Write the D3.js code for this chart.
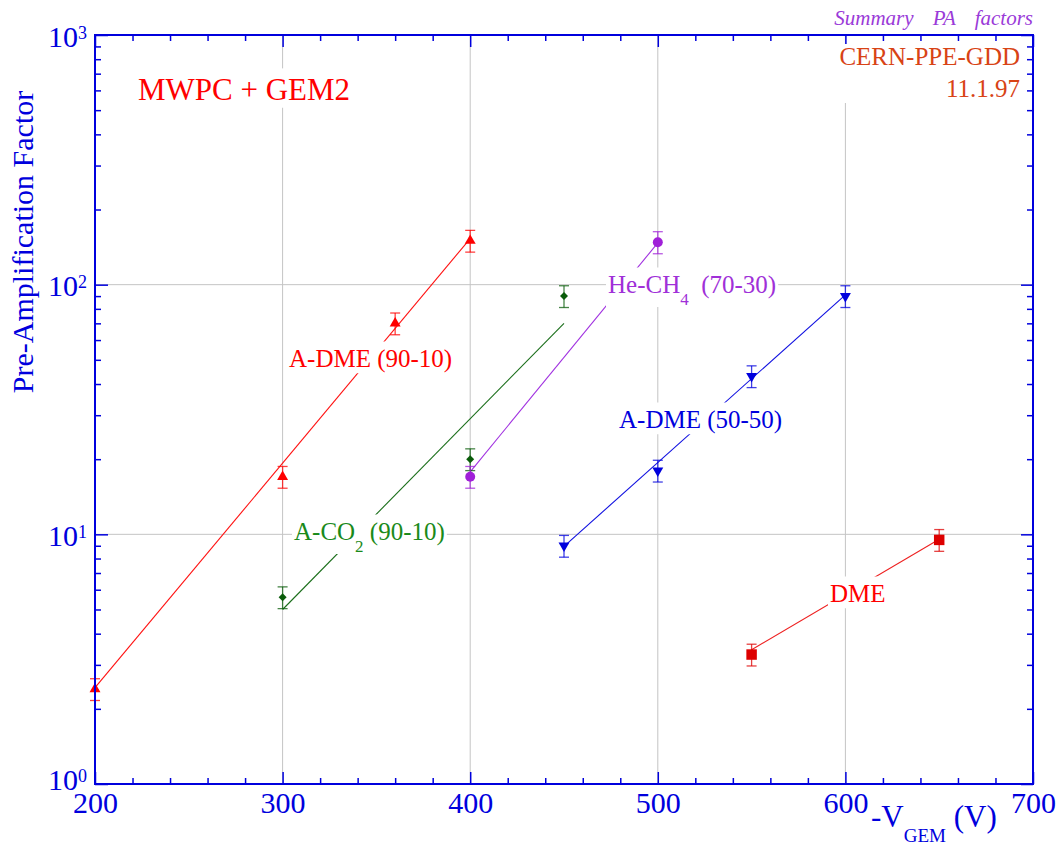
<!DOCTYPE html>
<html>
<head>
<meta charset="utf-8">
<script src="https://cdn.jsdelivr.net/npm/d3@7/dist/d3.min.js"></script>
<style>
  body { margin: 0; background: #fff; }
  svg { display: block; }
  text { font-family: "Liberation Serif", "Times New Roman", serif; }
</style>
</head>
<body>
<div id="chart"></div>
<script>
// ---- axis ticks ----
var xMajor = [200, 300, 400, 500, 600, 700];
var xMinor = [220, 240, 260, 280, 320, 340, 360, 380, 420, 440, 460, 480,
              520, 540, 560, 580, 620, 640, 660, 680];
var xGrid = [300, 400, 500, 600];
var yMajor = [1, 10, 100, 1000];
var yMinorMult = [2, 3, 4, 5, 6, 7, 8, 9];
var yGrid = [10, 100];

// ---- measured points [V, factor, error] ----
var adme9010 = [[200, 2.4, 0.24], [300, 17, 1.7], [360, 70, 7], [400, 150, 15]];
var aco2 = [[300, 5.6, 0.56], [400, 20, 2], [450, 90, 9]];
var hech4 = [[400, 17, 1.7], [500, 148, 15]];
var adme5050 = [[450, 9, 0.9], [500, 18, 1.8], [550, 43, 4.3], [600, 90, 9]];
var dme = [[550, 3.3, 0.33], [650, 9.5, 0.95]];

// ---- exponential fits, end points ----
var fitAdme9010 = [[200, 2.43], [400, 153]];
var fitAco2 = [[300, 5.0], [450, 70]];
var fitHech4 = [[400, 17.8], [500, 147]];
var fitAdme5050 = [[450, 8.95], [600, 91]];
var fitDme = [[550, 3.45], [650, 9.55]];

var blue = "#0000dd";

var series = [
  {pts: adme9010, fit: fitAdme9010, color: "#ff0000", line: "#ff1010", sym: d3.symbolTriangle, size: 52, rot: 0},
  {pts: aco2, fit: fitAco2, color: "#0a5c0a", line: "#1a6e1a", sym: d3.symbolSquare, size: 32, rot: 45},
  {pts: hech4, fit: fitHech4, color: "#a020d8", line: "#a030e0", sym: d3.symbolCircle, size: 78, rot: 0},
  {pts: adme5050, fit: fitAdme5050, color: "#0000dd", line: "#1010e0", sym: d3.symbolTriangle, size: 52, rot: 180},
  {pts: dme, fit: fitDme, color: "#dd0000", line: "#ee2020", sym: d3.symbolSquare, size: 110, rot: 0}
];

var labels = [
  {parts: [["MWPC + GEM2"]], x: 138, y: 100, size: 31, color: "#ff0000", box: true},
  {parts: [["A-DME (90-10)"]], x: 289, y: 367, size: 25, color: "#ff0000", box: true},
  {parts: [["A-CO"], ["2", "sub"], [" (90-10)"]], x: 294, y: 540, size: 25, color: "#1a8a1a", box: true},
  {parts: [["He-CH"], ["4", "sub"], ["  (70-30)"]], x: 608, y: 293, size: 25, color: "#a030d8", box: true},
  {parts: [["A-DME (50-50)"]], x: 619, y: 428, size: 25, color: "#0000dd", box: true},
  {parts: [["DME"]], x: 830, y: 602, size: 25, color: "#ff0000", box: true},
  {parts: [["CERN-PPE-GDD"]], x: 1020, y: 65, size: 25, color: "#d84315", box: true, anchor: "end", boxTop: 44},
  {parts: [["11.1.97"]], x: 1020, y: 97, size: 25, color: "#d84315", box: false, anchor: "end"}
];

var width = 1064, height = 846;
var margin = {top: 35, right: 31, bottom: 62, left: 95};

var svg = d3.select("#chart").append("svg")
    .attr("width", width)
    .attr("height", height);

svg.append("rect").attr("width", width).attr("height", height).attr("fill", "#fff");

var x = d3.scaleLinear()
    .domain([200, 700])
    .range([margin.left, width - margin.right]);

var y = d3.scaleLog()
    .domain([1, 1000])
    .range([height - margin.bottom, margin.top]);

var yMinor = [];
[1, 10, 100].forEach(function(d) {
  yMinorMult.forEach(function(m) { yMinor.push(d * m); });
});

// grid
var grid = svg.append("g").attr("stroke", "#c4c4c4").attr("stroke-width", 1);
grid.selectAll(".vg").data(xGrid).enter().append("line")
    .attr("x1", function(d) { return x(d); }).attr("x2", function(d) { return x(d); })
    .attr("y1", y(1000)).attr("y2", y(1));
grid.selectAll(".hg").data(yGrid).enter().append("line")
    .attr("y1", function(d) { return y(d); }).attr("y2", function(d) { return y(d); })
    .attr("x1", x(200)).attr("x2", x(700));

// fit lines
var line = d3.line()
    .x(function(d) { return x(d[0]); })
    .y(function(d) { return y(d[1]); });

svg.append("g").selectAll("path")
    .data(series)
    .enter().append("path")
    .attr("d", function(s) { return line(s.fit); })
    .attr("fill", "none")
    .attr("stroke", function(s) { return s.line; })
    .attr("stroke-width", 1.1);

// error bars + markers
series.forEach(function(s) {
  var g = svg.append("g");
  var eb = g.selectAll(".eb").data(s.pts).enter().append("g")
      .attr("stroke", s.color)
      .attr("stroke-opacity", 0.75)
      .attr("stroke-width", 1.3);
  eb.append("line")
      .attr("x1", function(d) { return x(d[0]); }).attr("x2", function(d) { return x(d[0]); })
      .attr("y1", function(d) { return y(d[1] - d[2]); }).attr("y2", function(d) { return y(d[1] + d[2]); });
  eb.append("line")
      .attr("x1", function(d) { return x(d[0]) - 5; }).attr("x2", function(d) { return x(d[0]) + 5; })
      .attr("y1", function(d) { return y(d[1] + d[2]); }).attr("y2", function(d) { return y(d[1] + d[2]); });
  eb.append("line")
      .attr("x1", function(d) { return x(d[0]) - 5; }).attr("x2", function(d) { return x(d[0]) + 5; })
      .attr("y1", function(d) { return y(d[1] - d[2]); }).attr("y2", function(d) { return y(d[1] - d[2]); });

  g.selectAll(".mk").data(s.pts).enter().append("path")
      .attr("d", d3.symbol().type(s.sym).size(s.size))
      .attr("transform", function(d) {
        return "translate(" + x(d[0]) + "," + y(d[1]) + ") rotate(" + s.rot + ")";
      })
      .attr("fill", s.color);
});

// axes
function styleAxis(g) {
  g.select(".domain").remove();
  g.selectAll(".tick line").attr("stroke", blue).attr("stroke-width", 1.5);
}

svg.append("g").attr("transform", "translate(0," + y(1) + ")")
    .call(d3.axisBottom(x).tickValues(xMinor).tickSize(-6).tickFormat(""))
    .call(styleAxis);
svg.append("g").attr("transform", "translate(0," + y(1000) + ")")
    .call(d3.axisTop(x).tickValues(xMinor).tickSize(-6).tickFormat(""))
    .call(styleAxis);
svg.append("g").attr("transform", "translate(0," + y(1000) + ")")
    .call(d3.axisTop(x).tickValues(xMajor).tickSize(-12).tickFormat(""))
    .call(styleAxis);

var xAxis = svg.append("g").attr("transform", "translate(0," + y(1) + ")")
    .call(d3.axisBottom(x).tickValues(xMajor).tickSize(-12).tickFormat(d3.format("d")))
    .call(styleAxis);
xAxis.selectAll(".tick text")
    .attr("y", 29).attr("dy", 0)
    .attr("fill", blue)
    .style("font-size", "30px")
    .style("font-family", "'Liberation Serif', serif");

svg.append("g").attr("transform", "translate(" + x(200) + ",0)")
    .call(d3.axisLeft(y).tickValues(yMinor).tickSize(-6).tickFormat(""))
    .call(styleAxis);
svg.append("g").attr("transform", "translate(" + x(700) + ",0)")
    .call(d3.axisRight(y).tickValues(yMinor).tickSize(-6).tickFormat(""))
    .call(styleAxis);
svg.append("g").attr("transform", "translate(" + x(700) + ",0)")
    .call(d3.axisRight(y).tickValues(yMajor).tickSize(-12).tickFormat(""))
    .call(styleAxis);

var yAxis = svg.append("g").attr("transform", "translate(" + x(200) + ",0)")
    .call(d3.axisLeft(y).tickValues(yMajor).tickSize(-13).tickFormat(""))
    .call(styleAxis);
yAxis.selectAll(".tick text").remove();
yAxis.selectAll(".tick").append("text")
    .attr("x", -8)
    .attr("y", function(d) { return d == 1 ? 5 : 11; })
    .attr("text-anchor", "end")
    .attr("fill", blue)
    .style("font-size", "30px")
    .each(function(d) {
      var t = d3.select(this);
      t.append("tspan").text("10");
      t.append("tspan").attr("dy", -8).style("font-size", "18px").text(String(Math.round(Math.log10(d))));
    });

// frame
svg.append("rect")
    .attr("x", x(200)).attr("y", y(1000))
    .attr("width", x(700) - x(200)).attr("height", y(1) - y(1000))
    .attr("fill", "none")
    .attr("stroke", blue)
    .attr("stroke-width", 2);

// axis titles
var xt = svg.append("text")
    .attr("x", 871).attr("y", 827)
    .attr("fill", blue)
    .style("font-size", "31px");
xt.append("tspan").text("-V");
xt.append("tspan").attr("dy", 15).style("font-size", "19px").text("GEM");
xt.append("tspan").attr("dy", -15).text(" (V)");

svg.append("text")
    .attr("transform", "translate(33,242) rotate(-90)")
    .attr("text-anchor", "middle")
    .attr("fill", blue)
    .style("font-size", "30px")
    .text("Pre-Amplification Factor");

svg.append("text")
    .attr("x", 1033).attr("y", 25)
    .attr("text-anchor", "end")
    .attr("fill", "#9a3ad8")
    .style("font-size", "21px")
    .style("font-style", "italic")
    .style("word-spacing", "14px")
    .text("Summary PA factors");

// labels with white boxes
labels.forEach(function(l) {
  var g = svg.append("g");
  var rect = g.append("rect").attr("fill", "#fff");
  var t = g.append("text")
      .attr("x", l.x).attr("y", l.y)
      .attr("text-anchor", l.anchor || "start")
      .attr("fill", l.color)
      .style("font-size", l.size + "px")
      .style("white-space", "pre");
  var shift = 0;
  l.parts.forEach(function(p) {
    var ts = t.append("tspan").text(p[0]);
    if (p[1] == "sub") {
      ts.attr("dy", 12).style("font-size", (l.size * 0.68) + "px");
      shift = 12;
    } else if (shift) {
      ts.attr("dy", -shift);
      shift = 0;
    }
  });
  if (l.box) {
    var bb = t.node().getBBox();
    var top = l.boxTop || (l.y - l.size * 1.02);
    var bottom = Math.max(bb.y + bb.height - 2, l.y + l.size * 0.25);
    rect.attr("x", bb.x - 2).attr("width", bb.width + 4)
        .attr("y", top).attr("height", bottom - top);
    if (l.anchor == "end") rect.attr("height", 103 - top);
  } else {
    rect.remove();
  }
});
</script>
</body>
</html>
